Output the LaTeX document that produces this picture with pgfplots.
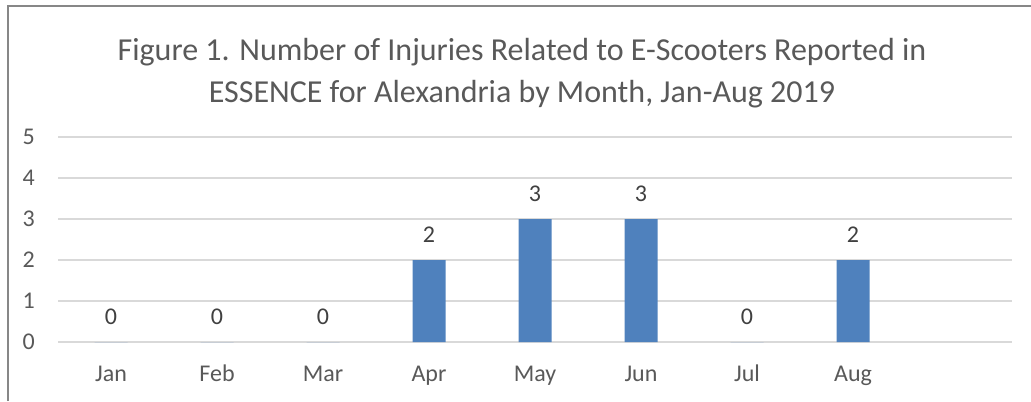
\documentclass[border=0pt]{standalone}
\usepackage{fontspec}
\setmainfont{Carlito}
\usepackage{pgfplots}
\pgfplotsset{compat=1.18}
\definecolor{barblue}{HTML}{4F81BD}
\definecolor{gridgray}{HTML}{D9D9D9}
\definecolor{txtgray}{HTML}{595959}
\definecolor{lblgray}{HTML}{404040}
\definecolor{framegray}{HTML}{878787}
\begin{document}
\begin{tikzpicture}[x=1bp,y=1bp]
\useasboundingbox (0,0) rectangle (1031,401);
\draw[framegray, line width=2bp] (7.5,0) -- (7.5,394.5) -- (1031,394.5);
\begin{axis}[
  at={(58bp,59bp)}, anchor=south west,
  scale only axis, width=954bp, height=205bp,
  xmin=-0.5, xmax=8.5, ymin=0, ymax=5,
  ytick={0,1,2,3,4,5},
  xtick={0,1,2,3,4,5,6,7},
  xticklabels={Jan,Feb,Mar,Apr,May,Jun,Jul,Aug},
  /pgf/number format/assume math mode=true,
  major tick length=0pt,
  axis line style={draw=none},
  ymajorgrids, grid style={gridgray, line width=1.3bp},
  tick label style={font=\fontsize{24bp}{28bp}\selectfont, text=txtgray},
  yticklabel style={inner sep=0pt, anchor=east, xshift=-23bp},
  xticklabel style={inner sep=0pt, anchor=base, yshift=-39bp},
  ybar, bar width=33bp,
  nodes near coords,
  every node near coord/.append style={font=\fontsize{24bp}{28bp}\selectfont, text=lblgray, anchor=base, inner sep=0pt, yshift=18bp},
  clip=false,
]
\addplot[fill=barblue, draw=none] coordinates {
(0,0) (1,0) (2,0) (3,2) (4,3) (5,3) (6,0) (7,2)
};
\end{axis}
\node[anchor=base, text=txtgray, font=\fontsize{32bp}{38bp}\selectfont, inner sep=0pt] at (522,341) {Figure 1. Number of Injuries Related to E-Scooters Reported in};
\node[anchor=base, text=txtgray, font=\fontsize{32bp}{38bp}\selectfont, inner sep=0pt] at (522,299) {ESSENCE for Alexandria by Month, Jan-Aug 2019};
\end{tikzpicture}
\end{document}
